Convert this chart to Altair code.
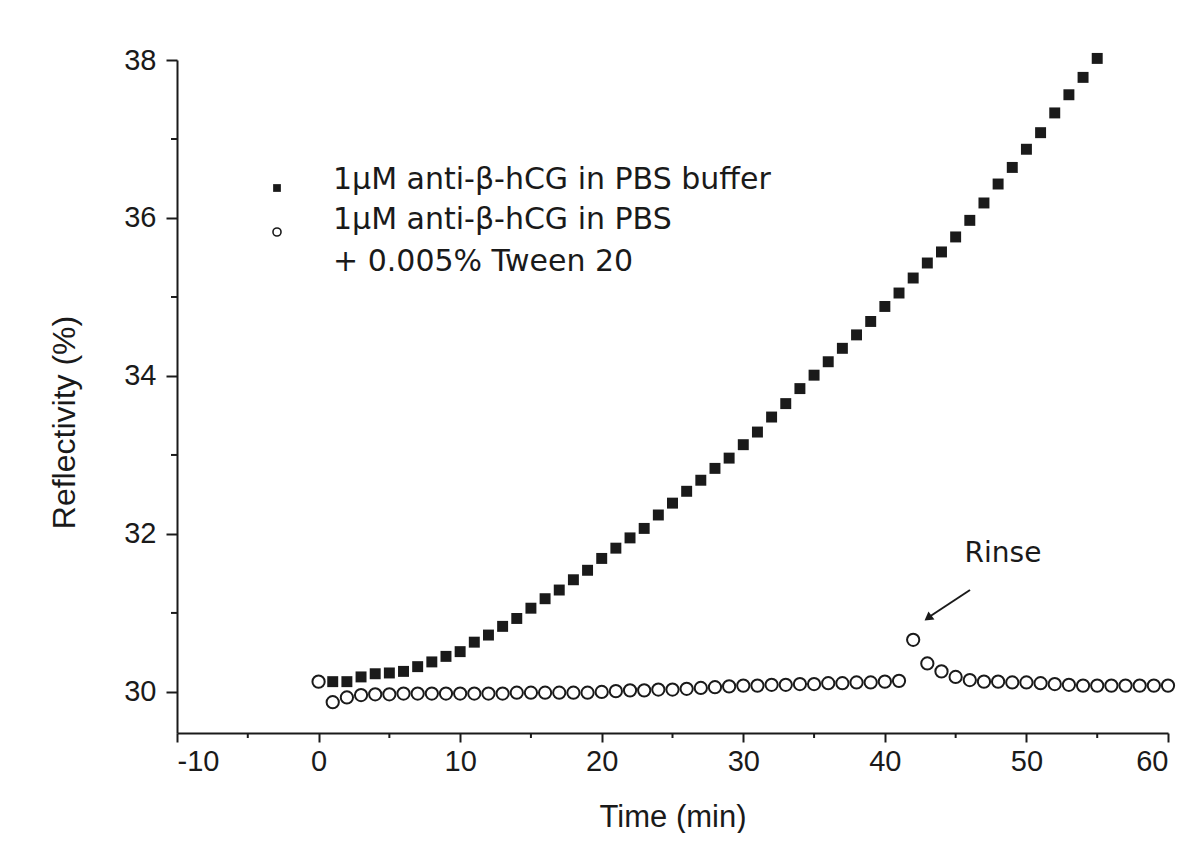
import altair as alt
import pandas as pd

# ---- data ----
time_buffer = list(range(1, 56))
refl_buffer = [30.13, 30.13, 30.19, 30.23, 30.24, 30.26, 30.32, 30.38, 30.45,
               30.51, 30.63, 30.72, 30.83, 30.93, 31.06, 31.18, 31.29, 31.42, 31.54,
               31.69, 31.82, 31.95, 32.07, 32.24, 32.39, 32.54, 32.68, 32.83, 32.96,
               33.13, 33.29, 33.48, 33.65, 33.84, 34.01, 34.18, 34.35, 34.52, 34.69,
               34.88, 35.05, 35.24, 35.43, 35.57, 35.76, 35.97, 36.19, 36.43, 36.64,
               36.87, 37.08, 37.33, 37.56, 37.78, 38.02]

time_tween = list(range(0, 61))
refl_tween = [30.13, 29.87, 29.93, 29.96, 29.97, 29.97, 29.98, 29.98, 29.98, 29.98,
              29.98, 29.98, 29.98, 29.98, 29.99, 29.99, 29.99, 29.99, 29.99, 29.99,
              30.00, 30.01, 30.02, 30.02, 30.03, 30.03, 30.04, 30.05, 30.06, 30.07,
              30.08, 30.08, 30.09, 30.09, 30.10, 30.10, 30.11, 30.11, 30.12, 30.12,
              30.13, 30.14, 30.66, 30.36, 30.26, 30.19, 30.15, 30.13, 30.13, 30.12,
              30.12, 30.11, 30.10, 30.09, 30.08, 30.08, 30.08, 30.08, 30.08, 30.08,
              30.08]

x_major = [-10, 0, 10, 20, 30, 40, 50, 60]
x_minor = [-5, 5, 15, 25, 35, 45, 55]
y_major = [30, 32, 34, 36, 38]
y_minor = [31, 33, 35, 37]

legend_labels = ["1\u03bcM anti-\u03b2-hCG in PBS buffer",
                 "1\u03bcM anti-\u03b2-hCG in PBS",
                 "+ 0.005% Tween 20"]
annotation_text = "Rinse"

# ---- styling ----
FONT = "Liberation Sans, Arial, Helvetica, sans-serif"
FONT2 = "DejaVu Sans, Liberation Sans, sans-serif"
INK = "#1a1a1a"
W, H = 991, 673

df_buf = pd.DataFrame({"t": time_buffer, "r": refl_buffer})
df_tw = pd.DataFrame({"t": time_tween, "r": refl_tween})
df_xminor = pd.DataFrame({"t": x_minor})
df_yminor = pd.DataFrame({"r": y_minor})

x_scale = alt.Scale(domain=[-10, 60], nice=False, zero=False)
y_scale = alt.Scale(domain=[29.48, 38.0], nice=False, zero=False)

x_axis = alt.Axis(
    values=x_major,
    labelExpr="toString(datum.value)",
    tickSize=9,
    grid=False, domainColor=INK, domainWidth=2, tickColor=INK, tickWidth=2,
    labelFont=FONT, labelFontSize=29, labelColor=INK, labelPadding=5,
    title="Time (min)", titleFont=FONT, titleFontSize=31, titleFontWeight="normal",
    titleColor=INK, titleY=93, titleBaseline="alphabetic",
)
y_axis = alt.Axis(
    values=y_major, format="d",
    tickSize=11,
    grid=False, domainColor=INK, domainWidth=2, tickColor=INK, tickWidth=2,
    labelFont=FONT, labelFontSize=29, labelColor=INK, labelPadding=10,
    title="Reflectivity (%)", titleFont=FONT, titleFontSize=32, titleFontWeight="normal",
    titleColor=INK, titleX=-103, titleY=362, titleBaseline="alphabetic",
)

squares = alt.Chart(df_buf).mark_point(
    shape="square", filled=True, size=120, color=INK, opacity=1
).encode(
    x=alt.X("t:Q", scale=x_scale, axis=x_axis),
    y=alt.Y("r:Q", scale=y_scale, axis=y_axis),
)

circles = alt.Chart(df_tw).mark_point(
    shape="circle", filled=False, size=150, color=INK, strokeWidth=2, opacity=1
).encode(
    x=alt.X("t:Q", scale=x_scale),
    y=alt.Y("r:Q", scale=y_scale),
)

x_minor_ticks = alt.Chart(df_xminor).mark_rule(color=INK, strokeWidth=2).encode(
    x=alt.X("t:Q", scale=x_scale), y=alt.value(H), y2=alt.value(H + 5))
y_minor_ticks = alt.Chart(df_yminor).mark_rule(color=INK, strokeWidth=2).encode(
    y=alt.Y("r:Q", scale=y_scale), x=alt.value(0), x2=alt.value(-6))

one = alt.Data(values=[{}])

leg_sq = alt.Chart(one).mark_point(shape="square", filled=True, size=60, color=INK, opacity=1).encode(
    x=alt.value(100), y=alt.value(128))
leg_ci = alt.Chart(one).mark_point(shape="circle", filled=False, size=65, strokeWidth=1.6,
                                   color=INK, opacity=1).encode(
    x=alt.value(100), y=alt.value(172))

legend_text_layers = []
for lbl, yb in zip(legend_labels, [129, 169, 211]):
    legend_text_layers.append(
        alt.Chart(one).mark_text(align="left", baseline="alphabetic", font=FONT2,
                                 fontSize=30, color=INK, text=lbl).encode(
            x=alt.value(156), y=alt.value(yb))
    )

rinse_txt = alt.Chart(one).mark_text(align="center", baseline="alphabetic", font=FONT2,
                                     fontSize=28, color=INK, text=annotation_text).encode(
    x=alt.value(826), y=alt.value(502))
arrow_line = alt.Chart(one).mark_rule(color=INK, strokeWidth=2).encode(
    x=alt.value(793), y=alt.value(530), x2=alt.value(752), y2=alt.value(557))
arrow_head = alt.Chart(one).mark_point(shape="triangle-up", filled=True, size=100,
                                       angle=233, color=INK, opacity=1).encode(
    x=alt.value(751), y=alt.value(558))

chart = alt.layer(
    x_minor_ticks, y_minor_ticks, squares, circles, leg_sq, leg_ci,
    *legend_text_layers, rinse_txt, arrow_line, arrow_head
).properties(
    width=W, height=H,
    autosize=alt.AutoSizeParams(type="none"),
    padding={"left": 169, "top": 52, "right": 10, "bottom": 100},
    background="white",
).configure_view(stroke=None)

chart.save("out.html", embed_options={"renderer": "svg", "actions": False})
